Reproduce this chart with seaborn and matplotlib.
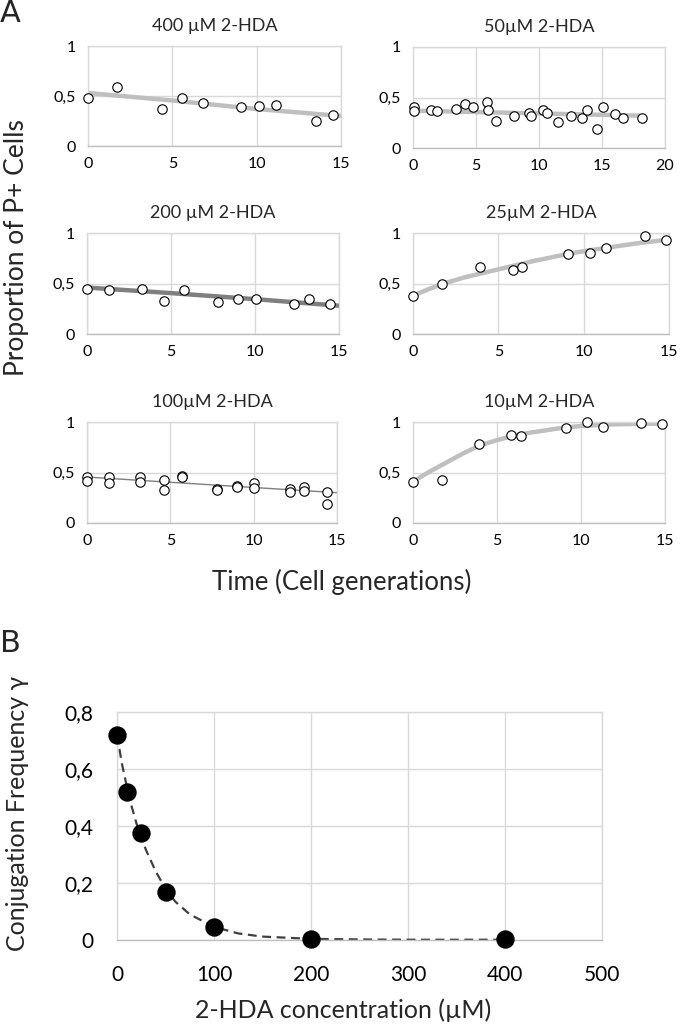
import matplotlib
matplotlib.use("Agg")
import matplotlib.pyplot as plt
import seaborn as sns

sns.set_theme(style="white")
plt.rcParams['font.family'] = ['Lato', 'DejaVu Sans']

W, H = 680, 1025

# ---- Panel A: proportion of P+ cells vs time (cell generations) ----
t_400 = [0, 1.7, 4.4, 5.6, 6.8, 9.05, 10.15, 11.15, 13.5, 14.5]
p_400 = [0.48, 0.59, 0.37, 0.485, 0.43, 0.39, 0.40, 0.41, 0.255, 0.315]
fit_t_400 = [0, 5, 10, 15]
fit_p_400 = [0.53, 0.455, 0.37, 0.30]

t_50 = [0.1, 0.1, 1.4, 1.9, 3.4, 4.1, 4.8, 5.9, 5.95, 6.6, 8.0, 9.2, 9.35,
        10.3, 10.6, 11.5, 12.5, 13.4, 13.8, 14.6, 15.1, 16.0, 16.7, 18.2]
p_50 = [0.41, 0.37, 0.38, 0.37, 0.39, 0.44, 0.41, 0.455, 0.38, 0.27, 0.32, 0.35,
        0.32, 0.38, 0.35, 0.26, 0.32, 0.30, 0.38, 0.19, 0.41, 0.34, 0.30, 0.30]
fit_t_50 = [0, 18]
fit_p_50 = [0.37, 0.32]

t_200 = [0, 1.3, 3.3, 4.6, 5.8, 7.8, 9.0, 10.05, 12.3, 13.2, 14.45]
p_200 = [0.445, 0.435, 0.445, 0.33, 0.435, 0.315, 0.345, 0.35, 0.30, 0.345, 0.30]
fit_t_200 = [0, 5, 10, 15]
fit_p_200 = [0.46, 0.405, 0.345, 0.28]

t_25 = [0, 1.7, 3.95, 5.85, 6.4, 9.1, 10.35, 11.3, 13.6, 14.85]
p_25 = [0.38, 0.50, 0.66, 0.63, 0.66, 0.79, 0.80, 0.855, 0.97, 0.93]
fit_t_25 = list(range(16))
fit_p_25 = [0.38, 0.45, 0.51, 0.56, 0.60, 0.64, 0.68, 0.72, 0.755, 0.79,
            0.82, 0.845, 0.87, 0.895, 0.915, 0.935]

t_100 = [0, 0, 1.3, 1.3, 3.2, 3.2, 4.6, 4.6, 5.7, 5.7, 7.8, 7.8,
         9.0, 9.0, 10.0, 10.0, 12.2, 12.2, 13.0, 13.0, 14.4, 14.4]
p_100 = [0.46, 0.42, 0.455, 0.40, 0.46, 0.405, 0.43, 0.33, 0.47, 0.455,
         0.34, 0.325, 0.365, 0.355, 0.395, 0.35, 0.333, 0.307, 0.355, 0.313,
         0.307, 0.19]
fit_t_100 = [0, 15]
fit_p_100 = [0.455, 0.30]

t_10 = [0, 1.75, 3.95, 5.85, 6.45, 9.1, 10.35, 11.3, 13.6, 14.85]
p_10 = [0.41, 0.43, 0.78, 0.87, 0.86, 0.94, 1.0, 0.95, 0.99, 0.98]
fit_t_10 = list(range(16))
fit_p_10 = [0.41, 0.51, 0.60, 0.69, 0.77, 0.82, 0.865, 0.895, 0.92, 0.945,
            0.96, 0.97, 0.977, 0.98, 0.982, 0.983]

# ---- Panel B: conjugation frequency vs 2-HDA concentration ----
conc = [0, 10, 25, 50, 100, 200, 400]
gamma = [0.72, 0.52, 0.375, 0.17, 0.045, 0.002, 0.002]
curve_conc = [0, 5, 10, 15, 20, 25, 30, 40, 50, 60, 75, 100, 125, 150, 200, 250, 300, 400]
curve_gamma = [0.72, 0.62, 0.54, 0.47, 0.41, 0.36, 0.315, 0.24, 0.18, 0.135, 0.09,
               0.046, 0.023, 0.012, 0.004, 0.002, 0.001, 0.001]

GRID = "#d9d9d9"


def rect(l, t, r, b):
    return [l / W, 1 - b / H, (r - l) / W, (b - t) / H]


def style(ax, xlim, xticks, xlabels, ylim, yticks, ylabels, fs, padx, pady):
    ax.set_xlim(*xlim)
    ax.set_ylim(*ylim)
    ax.set_xticks(xticks)
    ax.set_xticklabels(xlabels)
    ax.set_yticks(yticks)
    ax.set_yticklabels(ylabels)
    ax.grid(True, color=GRID, lw=1)
    ax.set_axisbelow(True)
    for s in ax.spines.values():
        s.set_color(GRID)
        s.set_linewidth(1)
    ax.spines['bottom'].set_color("#bfbfbf")
    ax.tick_params(axis='x', length=0, labelsize=fs, pad=padx, colors="black")
    ax.tick_params(axis='y', length=0, labelsize=fs, pad=pady, colors="black")
    ax.set_xlabel("")
    ax.set_ylabel("")


fig = plt.figure(figsize=(W / 100, H / 100), dpi=100)

panels = [
    ("400 µM 2-HDA", (88, 46, 341, 146), 15, t_400, p_400, fit_t_400, fit_p_400, "#bfbfbf", 3.2),
    ("50µM 2-HDA", (413, 47, 665, 148), 20, t_50, p_50, fit_t_50, fit_p_50, "#bfbfbf", 3.2),
    ("200 µM 2-HDA", (87, 233, 339, 334), 15, t_200, p_200, fit_t_200, fit_p_200, "#7f7f7f", 3.2),
    ("25µM 2-HDA", (413, 233, 669, 334), 15, t_25, p_25, fit_t_25, fit_p_25, "#bfbfbf", 3.2),
    ("100µM 2-HDA", (87, 422, 337, 523), 15, t_100, p_100, fit_t_100, fit_p_100, "#7f7f7f", 1.0),
    ("10µM 2-HDA", (413, 422, 665, 523), 15, t_10, p_10, fit_t_10, fit_p_10, "#bfbfbf", 3.2),
]

for title, box, xmax, tx, py, ft, fp, lc, lw in panels:
    ax = fig.add_axes(rect(*box))
    xt = list(range(0, xmax + 1, 5))
    sns.lineplot(x=ft, y=fp, ax=ax, color=lc, lw=lw, zorder=2)
    sns.scatterplot(x=tx, y=py, ax=ax, s=46, color="white", edgecolor="black",
                    linewidth=0.8, zorder=3, clip_on=False)
    style(ax, (0, xmax), xt, [str(v) for v in xt], (0, 1), [0, 0.5, 1],
          ["0", "0,5", "1"], 11.5, 8, 9)
    ax.set_title(title, fontsize=13, pad=11)

fig.text(17 / W, 1 - 248 / H, "Proportion of P+ Cells", rotation=90,
         ha="center", va="center", fontsize=19)
fig.text(342 / W, 1 - 582 / H, "Time (Cell generations)", ha="center",
         va="center", fontsize=18.5)
fig.text(0 / W, 1 - 14 / H, "A", ha="left", va="center", fontsize=22,
         family=["DejaVu Sans"])
fig.text(0 / W, 1 - 644 / H, "B", ha="left", va="center", fontsize=22,
         family=["DejaVu Sans"])

# ---- Panel B ----
axb = fig.add_axes(rect(117, 712, 602, 940))
sns.lineplot(x=curve_conc, y=curve_gamma, ax=axb, color="#404040", lw=1.6,
             dashes=False, linestyle=(0, (4, 2.5)), zorder=2)
sns.scatterplot(x=conc, y=gamma, ax=axb, s=150, color="black", edgecolor="black",
                zorder=3, clip_on=False)
style(axb, (0, 500), [0, 100, 200, 300, 400, 500],
      ["0", "100", "200", "300", "400", "500"], (0, 0.8),
      [0, 0.2, 0.4, 0.6, 0.8], ["0", "0,2", "0,4", "0,6", "0,8"], 15, 18, 17)
fig.text(18 / W, 1 - 813 / H, "Conjugation Frequency γ", rotation=90,
         ha="center", va="center", fontsize=18)
fig.text(343 / W, 1 - 1010 / H, "2-HDA concentration (µM)", ha="center",
         va="center", fontsize=18)

fig.savefig("out.png", dpi=100)
